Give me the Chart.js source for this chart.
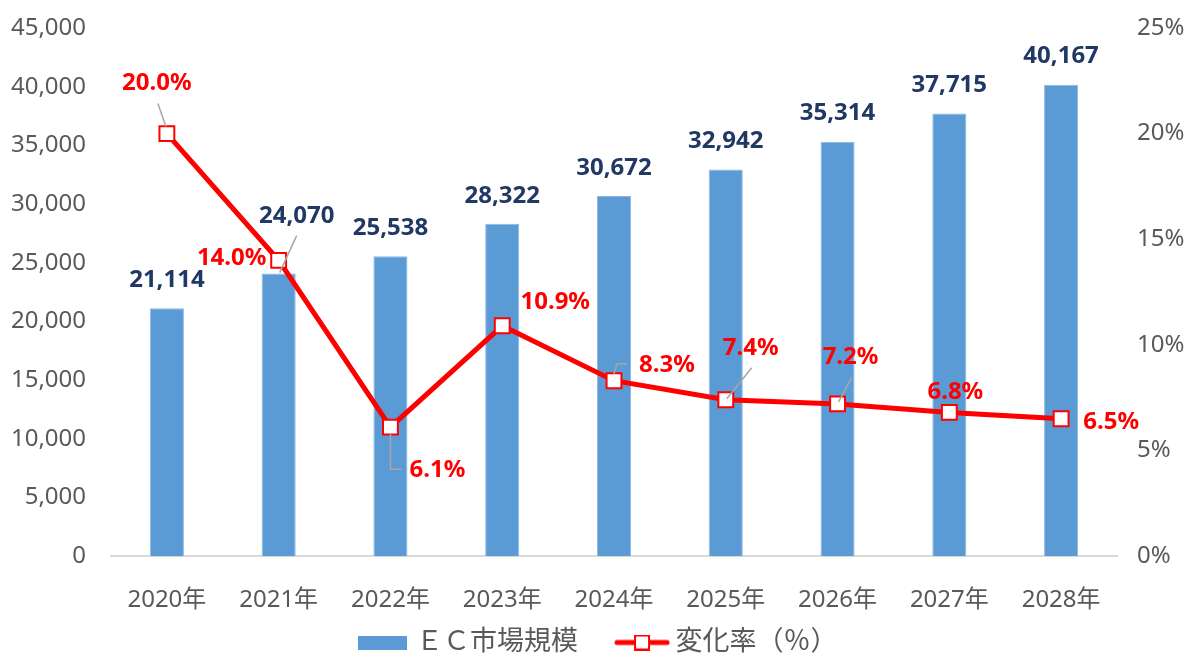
<!DOCTYPE html>
<html lang="ja">
<head>
<meta charset="utf-8">
<title>EC市場規模</title>
<script src="https://cdn.jsdelivr.net/npm/chart.js@4.4.1/dist/chart.umd.min.js"></script>
<style>
    html, body { margin: 0; padding: 0; background: #fff; }
    #wrap { width: 1200px; height: 666px; position: relative; }
</style>
</head>
<body>
<div id="wrap"><canvas id="chart"></canvas></div>
<script>
// データ
const years = ["2020年", "2021年", "2022年", "2023年", "2024年", "2025年", "2026年", "2027年", "2028年"];
const marketSize = [21114, 24070, 25538, 28322, 30672, 32942, 35314, 37715, 40167];
const changeRate = [20.0, 14.0, 6.1, 10.9, 8.3, 7.4, 7.2, 6.8, 6.5];
const leftTicks = [0, 5000, 10000, 15000, 20000, 25000, 30000, 35000, 40000, 45000];
const rightTicks = [0, 5, 10, 15, 20, 25];

const FONT = '"Noto Sans", "Noto Sans CJK JP", sans-serif';

// ラベル位置の調整（点からのずれ）
const barLabelShift = [[0, -28], [18, -57], [0, -28], [0, -28], [0, -28], [0, -28], [0, -28], [0, -28], [0, -29]];
const barLeaders = { 1: [[18, -38], [1, -1]] };
const rateLabelShift = [[-10, -50], [-47, -2], [47, 43], [53, -24], [53, -16], [25, -52], [13, -47], [6, -20], [50, 3]];
const rateLeaders = {
    0: [[-9, -30], [-1, -7]],
    2: [[0, 6], [0, 42], [11, 42]],
    4: [[0, -7], [3, -17], [13, -17]],
    5: [[26, -32], [1, -1]],
    6: [[14, -26], [1, -2]]
};

// 凡例アイコン
function barIcon() {
    var c = document.createElement('canvas');
    c.width = 49; c.height = 14;
    var g = c.getContext('2d');
    g.fillStyle = '#5B9BD5';
    g.fillRect(0, 0, 49, 14);
    return c;
}
function lineIcon() {
    var c = document.createElement('canvas');
    c.width = 56; c.height = 16;
    var g = c.getContext('2d');
    g.strokeStyle = '#FF0000';
    g.lineWidth = 5;
    g.lineCap = 'round';
    g.beginPath();
    g.moveTo(3, 8); g.lineTo(53, 8);
    g.stroke();
    g.fillStyle = '#fff';
    g.fillRect(21, 1, 14, 14);
    g.lineWidth = 2;
    g.strokeRect(21, 1, 14, 14);
    return c;
}
const legendIcons = [barIcon(), lineIcon()];

const labelPlugin = {
    id: 'labelPlugin',
    afterDatasetsDraw(chart) {
        const ctx = chart.ctx;
        ctx.save();
        ctx.textAlign = 'center';
        ctx.textBaseline = 'middle';
        ctx.font = 'bold 24px ' + FONT;
        ctx.lineWidth = 1.5;
        ctx.strokeStyle = '#A6A6A6';

        function leader(x, y, path) {
            ctx.beginPath();
            path.forEach(function (p, i) {
                if (i === 0) ctx.moveTo(x + p[0], y + p[1]);
                else ctx.lineTo(x + p[0], y + p[1]);
            });
            ctx.stroke();
        }

        chart.getDatasetMeta(0).data.forEach(function (bar, i) {
            if (barLeaders[i]) leader(bar.x, bar.y, barLeaders[i]);
            ctx.fillStyle = '#203864';
            ctx.fillText(marketSize[i].toLocaleString('en-US'), bar.x + barLabelShift[i][0], bar.y + barLabelShift[i][1]);
        });
        chart.getDatasetMeta(1).data.forEach(function (pt, i) {
            if (rateLeaders[i]) leader(pt.x, pt.y, rateLeaders[i]);
            ctx.fillStyle = '#FF0000';
            ctx.fillText(changeRate[i].toFixed(1) + '%', pt.x + rateLabelShift[i][0], pt.y + rateLabelShift[i][1]);
        });
        ctx.restore();
    }
};

// 縦軸の余白を詰める
function fitSide(width) {
    return function (axis) {
        axis.width = width;
        axis.paddingTop = 14;
        axis.paddingBottom = 14;
    };
}

const ctx = document.getElementById('chart').getContext('2d');
const chart = new Chart(ctx, {
    type: 'bar',
    data: {
        labels: years,
        datasets: [
            {
                type: 'bar',
                label: 'ＥＣ市場規模\u3000 ',
                data: marketSize,
                backgroundColor: '#5B9BD5',
                borderColor: '#8DB8E2',
                borderWidth: 1,
                categoryPercentage: 1,
                barPercentage: 0.305,
                yAxisID: 'y',
                order: 1
            },
            {
                type: 'line',
                label: '変化率（％）',
                data: changeRate,
                borderColor: '#FF0000',
                borderWidth: 5,
                tension: 0,
                pointStyle: 'rect',
                pointRadius: 10.5,
                pointHoverRadius: 10.5,
                pointBackgroundColor: '#FFFFFF',
                pointBorderColor: '#FF0000',
                pointBorderWidth: 2,
                yAxisID: 'y1',
                order: 0
            }
        ]
    },
    options: {
        responsive: true,
        maintainAspectRatio: false,
        animation: false,
        layout: {
            padding: { top: 28, left: 0, right: 0, bottom: 0 }
        },
        scales: {
            x: {
                grid: { display: false, drawTicks: false },
                border: { display: true, color: '#D9D9D9', width: 2 },
                afterFit: function (axis) { axis.height = 63; },
                ticks: {
                    color: '#595959',
                    font: { family: FONT, size: 24 },
                    padding: 30
                }
            },
            y: {
                position: 'left',
                min: 0,
                max: 45000,
                grid: { display: false, drawTicks: false },
                border: { display: false },
                afterBuildTicks: function (axis) {
                    axis.ticks = leftTicks.map(function (v) { return { value: v }; });
                },
                afterFit: fitSide(111),
                ticks: {
                    color: '#595959',
                    font: { family: FONT, size: 24 },
                    padding: 25,
                    callback: function (v) { return Number(v).toLocaleString('en-US'); }
                }
            },
            y1: {
                position: 'right',
                min: 0,
                max: 25,
                grid: { display: false, drawTicks: false },
                border: { display: false },
                afterBuildTicks: function (axis) {
                    axis.ticks = rightTicks.map(function (v) { return { value: v }; });
                },
                afterFit: fitSide(83),
                ticks: {
                    color: '#595959',
                    font: { family: FONT, size: 24 },
                    padding: 20,
                    callback: function (v) { return v + '%'; }
                }
            }
        },
        plugins: {
            legend: {
                position: 'bottom',
                labels: {
                    color: '#595959',
                    font: { family: FONT, size: 27 },
                    usePointStyle: true,
                    pointStyleWidth: 40,
                    padding: 10,
                    generateLabels: function (chart) {
                        return chart.data.datasets.map(function (ds, i) {
                            return {
                                text: ds.label,
                                datasetIndex: i,
                                pointStyle: legendIcons[i],
                                fillStyle: 'transparent',
                                strokeStyle: 'transparent',
                                lineWidth: 0,
                                fontColor: '#595959',
                                hidden: false
                            };
                        });
                    }
                }
            },
            tooltip: { enabled: false }
        }
    },
    plugins: [labelPlugin]
});
</script>
</body>
</html>
